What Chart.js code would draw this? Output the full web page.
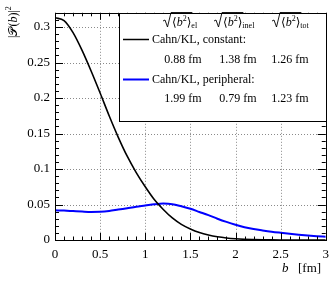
<!DOCTYPE html>
<html>
<head>
<meta charset="utf-8">
<script src="https://cdn.jsdelivr.net/npm/chart.js@4"></script>
<style>
html, body { margin: 0; padding: 0; background: #fff; }
</style>
</head>
<body>
<canvas id="grafica" width="336" height="282"></canvas>
<script>
// valores
const valoresB = [0, 0.1, 0.2, 0.3, 0.4, 0.5, 0.6, 0.7, 0.8, 0.9, 1.0, 1.1, 1.2, 1.3, 1.4, 1.5,
    1.6, 1.7, 1.8, 1.9, 2.0, 2.1, 2.2, 2.3, 2.4, 2.5, 2.6, 2.7, 2.8, 2.9, 3.0];
const constante = [0.313, 0.309, 0.292, 0.267, 0.238, 0.207, 0.175, 0.145, 0.118, 0.095, 0.075,
    0.057, 0.043, 0.031, 0.022, 0.0155, 0.0105, 0.007, 0.0045, 0.0028, 0.0017, 0.001, 0.0006,
    0.0003, 0.0002, 0.0001, 0, 0, 0, 0, 0];
const periferica = [0.0418, 0.0414, 0.0407, 0.0400, 0.0395, 0.0397, 0.0408, 0.0428, 0.0448, 0.0468,
    0.0485, 0.0503, 0.0513, 0.0505, 0.0475, 0.0440, 0.0395, 0.0350, 0.0300, 0.0255, 0.0215,
    0.0180, 0.0155, 0.0135, 0.0117, 0.0102, 0.0088, 0.0075, 0.0064, 0.0054, 0.0046];
const ticksX = [0, 0.5, 1, 1.5, 2, 2.5, 3];
const ticksY = [0, 0.05, 0.1, 0.15, 0.2, 0.25, 0.3];
const nombres = ["Cahn/KL, constant:", "Cahn/KL, peripheral:"];
const subindices = ["el", "inel", "tot"];
const radiosConstante = ["0.88 fm", "1.38 fm", "1.26 fm"];
const radiosPeriferica = ["1.99 fm", "0.79 fm", "1.23 fm"];

const fuente = "'Liberation Serif', 'DejaVu Serif', serif";

const puntos = (ys) => valoresB.map((x, i) => ({x: x, y: ys[i]}));

// rejilla punteada
const rejilla = {
    id: "rejilla",
    beforeDatasetsDraw(chart) {
        const ctx = chart.ctx;
        const area = chart.chartArea;
        const sx = chart.scales.x;
        const sy = chart.scales.y;
        ctx.save();
        ctx.strokeStyle = "#8a8a8a";
        ctx.lineWidth = 1;
        ctx.setLineDash([1, 2]);
        ctx.beginPath();
        ticksX.forEach(v => {
            const px = Math.round(sx.getPixelForValue(v)) + 0.5;
            ctx.moveTo(px, area.top);
            ctx.lineTo(px, area.bottom);
        });
        ticksY.forEach(v => {
            const py = Math.round(sy.getPixelForValue(v)) + 0.5;
            ctx.moveTo(area.left, py);
            ctx.lineTo(area.right, py);
        });
        ctx.stroke();
        ctx.restore();
    }
};

// marco, ticks menores, titulos y leyenda
const extras = {
    id: "extras",
    afterDraw(chart) {
        const ctx = chart.ctx;
        const area = chart.chartArea;
        const sx = chart.scales.x;
        const sy = chart.scales.y;
        ctx.save();
        ctx.strokeStyle = "#000";
        ctx.lineWidth = 1;

        // ticks en x cada 0.1
        ctx.beginPath();
        for (let k = 0; k <= 30; k++) {
            const px = Math.round(sx.getPixelForValue(k / 10)) + 0.5;
            const largo = k % 5 === 0 ? 7 : 3.5;
            ctx.moveTo(px, area.bottom);
            ctx.lineTo(px, area.bottom - largo);
            ctx.moveTo(px, area.top);
            ctx.lineTo(px, area.top + largo);
        }
        // ticks en y cada 0.01
        for (let k = 0; k <= 32; k++) {
            const py = Math.round(sy.getPixelForValue(k / 100)) + 0.5;
            const largo = k % 5 === 0 ? 8 : 4;
            ctx.moveTo(area.left, py);
            ctx.lineTo(area.left + largo, py);
            ctx.moveTo(area.right, py);
            ctx.lineTo(area.right - largo, py);
        }
        ctx.stroke();
        ctx.strokeRect(Math.round(area.left) + 0.5, Math.round(area.top) + 0.5,
            Math.round(area.right - area.left), Math.round(area.bottom - area.top));

        // titulo eje x
        ctx.fillStyle = "#000";
        ctx.textBaseline = "alphabetic";
        ctx.textAlign = "left";
        ctx.font = "italic 13px " + fuente;
        ctx.fillText("b", 282, 272);
        ctx.font = "13px " + fuente;
        ctx.fillText("[fm]", 298, 272);

        // titulo eje y (rotado)
        ctx.save();
        ctx.translate(17, 38);
        ctx.rotate(-Math.PI / 2);
        let x = 0;
        const pieza = (txt, f, dy) => {
            ctx.font = f;
            ctx.fillText(txt, x, dy || 0);
            x += ctx.measureText(txt).width;
        };
        pieza("|", "12px " + fuente);
        pieza("\u{1D4AB}", "12px 'DejaVu Sans', serif");
        pieza("(", "12px " + fuente);
        pieza("b", "italic 12px " + fuente);
        pieza(")|", "12px " + fuente);
        pieza("2", "8px " + fuente, -6);
        ctx.restore();

        // leyenda
        const lx = 119.5, ly = Math.round(area.top) + 0.5;
        ctx.fillStyle = "#fff";
        ctx.fillRect(lx, ly, Math.round(area.right) - lx + 0.5, 108);
        ctx.strokeRect(lx, ly, Math.round(area.right) - lx + 0.5, 108);
        ctx.fillStyle = "#000";

        const inicios = [163, 214, 272];
        subindices.forEach((sub, i) => {
            let rx = inicios[i];
            const base = 26;
            ctx.font = "12px " + fuente;
            const w1 = ctx.measureText("\u27E8b").width;
            ctx.font = "8px " + fuente;
            const w2 = ctx.measureText("2").width;
            ctx.font = "12px " + fuente;
            const w3 = ctx.measureText("\u27E9").width;
            const anchoRad = 9 + w1 + w2 + w3 + 1;
            ctx.beginPath();
            ctx.lineWidth = 0.9;
            ctx.moveTo(rx, base - 5);
            ctx.lineTo(rx + 2, base - 6);
            ctx.lineTo(rx + 4.5, base + 1);
            ctx.lineTo(rx + 8, base - 13.5);
            ctx.lineTo(rx + anchoRad, base - 13.5);
            ctx.stroke();
            let tx = rx + 9;
            ctx.font = "12px " + fuente;
            ctx.fillText("\u27E8", tx, base);
            tx += ctx.measureText("\u27E8").width;
            ctx.font = "italic 12px " + fuente;
            ctx.fillText("b", tx, base);
            tx += ctx.measureText("b").width;
            ctx.font = "8px " + fuente;
            ctx.fillText("2", tx, base - 5);
            tx += w2;
            ctx.font = "12px " + fuente;
            ctx.fillText("\u27E9", tx, base);
            tx += w3;
            ctx.font = "8px " + fuente;
            ctx.fillText(sub, tx, base + 2);
        });

        const filas = [
            {nombre: nombres[0], color: "#000", ancho: 1.5, y: 39.5, valores: radiosConstante, yv: 60},
            {nombre: nombres[1], color: "#0000ff", ancho: 2, y: 79.5, valores: radiosPeriferica, yv: 98.5}
        ];
        const centros = [183, 238, 290];
        ctx.textBaseline = "middle";
        filas.forEach(f => {
            ctx.beginPath();
            ctx.strokeStyle = f.color;
            ctx.lineWidth = f.ancho;
            ctx.moveTo(123, f.y);
            ctx.lineTo(149, f.y);
            ctx.stroke();
            ctx.font = "12px " + fuente;
            ctx.textAlign = "left";
            ctx.fillText(f.nombre, 152, f.y);
            ctx.textAlign = "center";
            f.valores.forEach((v, i) => ctx.fillText(v, centros[i], f.yv));
        });
        ctx.restore();
    }
};

new Chart(document.getElementById("grafica"), {
    type: "line",
    data: {
        datasets: [
            {
                label: nombres[0],
                data: puntos(constante),
                borderColor: "#000000",
                borderWidth: 1.6,
                pointRadius: 0,
                cubicInterpolationMode: "monotone",
                fill: false
            },
            {
                label: nombres[1],
                data: puntos(periferica),
                borderColor: "#0000ff",
                borderWidth: 2,
                pointRadius: 0,
                cubicInterpolationMode: "monotone",
                fill: false
            }
        ]
    },
    options: {
        responsive: false,
        animation: false,
        devicePixelRatio: 1,
        layout: { padding: { top: 4, right: 9, left: 0, bottom: 0 } },
        plugins: { legend: { display: false }, tooltip: { enabled: false } },
        scales: {
            x: {
                type: "linear",
                min: 0,
                max: 3,
                afterBuildTicks: (scale) => { scale.ticks = ticksX.map(v => ({value: v})); },
                afterFit: (scale) => { scale.height = 42; },
                ticks: {
                    color: "#000",
                    padding: 7,
                    maxRotation: 0,
                    font: { family: fuente, size: 13 },
                    callback: (v) => String(v)
                },
                grid: { display: false, drawTicks: false },
                border: { display: false }
            },
            y: {
                type: "linear",
                min: 0,
                max: 0.32,
                afterBuildTicks: (scale) => { scale.ticks = ticksY.map(v => ({value: v})); },
                afterFit: (scale) => { scale.width = 55; },
                ticks: {
                    color: "#000",
                    padding: 5,
                    font: { family: fuente, size: 13 },
                    callback: (v) => String(v)
                },
                grid: { display: false, drawTicks: false },
                border: { display: false }
            }
        }
    },
    plugins: [rejilla, extras]
});
</script>
</body>
</html>
